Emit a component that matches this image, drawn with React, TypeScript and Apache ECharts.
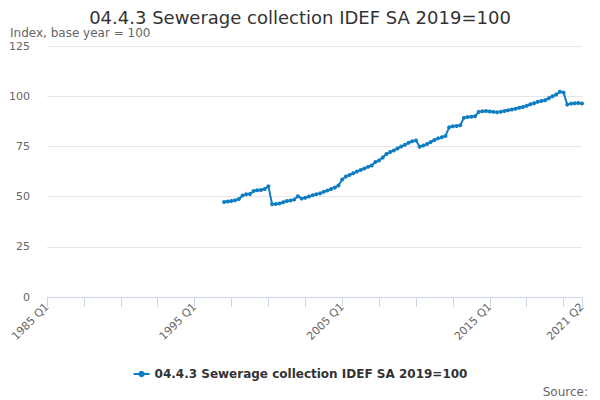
import React, { useEffect, useRef } from "react";
import * as echarts from "echarts";

const titleText = "04.4.3 Sewerage collection IDEF SA 2019=100";
const subtitleText = "Index, base year = 100";
const seriesName = "04.4.3 Sewerage collection IDEF SA 2019=100";
const sourceText = "Source:";

const firstYear = 1985;
const lastYear = 2021;
const lastQuarter = 2;
const dataStartYear = 1997; // data begins at 1997 Q1

// Quarterly values from 1997 Q1 to 2021 Q2
const values: number[] = [
  47.3, 47.6, 47.8, 48.2, 48.8, 50.5, 51.2, 51.3, 52.8, 53.2, 53.3, 53.8, 55.2,
  46.2, 46.3, 46.6, 47.2, 47.8, 48.1, 48.5, 50.2, 49.0, 49.4, 50.0, 50.7, 51.2,
  51.6, 52.4, 53.0, 53.8, 54.5, 55.5,
  58.5, 60.0, 60.8, 61.6, 62.5, 63.2, 64.0, 64.8, 65.5, 67.2, 68.0, 69.5, 71.2,
  72.2, 73.0, 74.0, 75.0, 75.8, 76.8, 77.6, 78.0, 74.8, 75.5, 76.2, 77.2, 78.2,
  79.0, 79.6, 80.2,
  84.5, 85.0, 85.2, 85.5, 89.2, 89.6, 89.8, 90.0, 92.2, 92.5, 92.6, 92.4, 92.2,
  92.0, 92.3, 92.6, 93.0, 93.4, 93.8, 94.2, 94.6, 95.2, 96.0, 96.5, 97.2, 97.6,
  98.0, 99.0, 100.0, 100.8, 102.2, 101.8, 95.8, 96.3, 96.5, 96.6, 96.4,
];

const yTicks = [0, 25, 50, 75, 100, 125];

const categories: string[] = [];
for (let y = firstYear; y <= lastYear; y++) {
  for (let q = 1; q <= 4; q++) {
    if (y === lastYear && q > lastQuarter) break;
    categories.push(`${y} Q${q}`);
  }
}
const lastIndex = categories.length - 1;
const offset = (dataStartYear - firstYear) * 4;
const seriesData: (number | null)[] = categories.map((_, i) =>
  i >= offset && i - offset < values.length ? values[i - offset] : null
);

const FONT = "DejaVu Sans";

export default function App() {
  const ref = useRef<HTMLDivElement>(null);
  useEffect(() => {
    if (!ref.current) return;
    const chart = echarts.init(ref.current, undefined, { renderer: "svg" });
    chart.setOption({
      animation: false,
      textStyle: { fontFamily: FONT },
      title: [
        {
          text: titleText,
          left: "center",
          top: 8,
          padding: 0,
          textStyle: {
            fontSize: 18,
            lineHeight: 18,
            fontWeight: "normal",
            color: "#333333",
            fontFamily: FONT,
          },
        },
        {
          text: subtitleText,
          left: 10,
          top: 27,
          padding: 0,
          textStyle: {
            fontSize: 12,
            lineHeight: 12,
            fontWeight: "normal",
            color: "#666666",
            fontFamily: FONT,
          },
        },
      ],
      legend: {
        bottom: 15,
        left: "center",
        itemWidth: 16,
        itemHeight: 8,
        textStyle: { fontSize: 12, fontWeight: "bold", color: "#333333", fontFamily: FONT },
        data: [seriesName],
      },
      grid: { left: 47, right: 18, top: 46, bottom: 103, containLabel: false },
      xAxis: {
        type: "category",
        data: categories,
        boundaryGap: false,
        axisLine: { show: true, lineStyle: { color: "#ccd6eb", width: 1 } },
        axisTick: {
          show: true,
          length: 10,
          interval: (i: number) => i % 10 === 0 || i === lastIndex,
          lineStyle: { color: "#ccd6eb" },
        },
        axisLabel: {
          rotate: 45,
          fontSize: 11,
          color: "#666666",
          fontFamily: FONT,
          margin: 8,
          interval: (i: number) => i % 40 === 0 || i === lastIndex,
        },
        splitLine: { show: false },
      },
      yAxis: {
        type: "value",
        min: 0,
        max: yTicks[yTicks.length - 1],
        interval: 25,
        axisLine: { show: false },
        axisTick: { show: false },
        axisLabel: { fontSize: 11, color: "#666666", fontFamily: FONT, margin: 17 },
        splitLine: { lineStyle: { color: "#e6e6e6", width: 1 } },
      },
      series: [
        {
          name: seriesName,
          type: "line",
          data: seriesData,
          connectNulls: false,
          symbol: "circle",
          symbolSize: 4,
          showSymbol: true,
          showAllSymbol: true,
          lineStyle: { color: "#0f7dc2", width: 2 },
          itemStyle: { color: "#0f7dc2" },
        },
      ],
      graphic: [
        {
          type: "text",
          right: 12,
          bottom: 2,
          style: { text: sourceText, fontSize: 12, fill: "#666666", fontFamily: FONT },
        },
      ],
    });
    return () => chart.dispose();
  }, []);
  return (
    <div
      ref={ref}
      style={{ position: "fixed", left: 0, top: 0, width: 600, height: 400, background: "#fff" }}
    />
  );
}
